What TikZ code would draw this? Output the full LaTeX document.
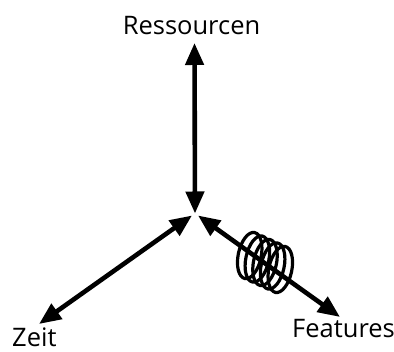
\documentclass[tikz,border=0pt]{standalone}
\usepackage{fontspec}
\setmainfont{Open Sans}
\usetikzlibrary{arrows.meta,calc}
\begin{document}
\begin{tikzpicture}[x=1pt,y=1pt,
  axis/.style={line width=4.6pt,{Triangle[length=22pt,width=18pt]}-{Triangle[length=22pt,width=18pt]}},
  lbl/.style={font=\fontsize{25.5}{30}\selectfont,inner sep=0pt},
  loop/.style={line width=3.2pt,rotate=-12,x radius=11.5,y radius=23.5}]
\useasboundingbox (0,0) rectangle (394,352);
% axis end points
\coordinate (ores) at (195,138.5);
\coordinate (ozeit) at (192,136.5);
\coordinate (ofeat) at (198,136.5);
\coordinate (res) at (194.5,309);
\coordinate (zeit) at (39,28);
\coordinate (feat) at (340,35);
\coordinate (spring) at (265,89.5);
% labels
\node[lbl,anchor=base] (tres) at (191.5,317) {Ressourcen};
\node[lbl,anchor=base west] (tzeit) at (12,5.5) {Zeit};
\node[lbl,anchor=base west] (tfeat) at (292,14) {Features};
% axes
\draw[axis] (res) -- (ores);
\draw[axis] (zeit) -- (ozeit);
\draw[axis] (ofeat) -- (feat);
% spring on the feature axis
\foreach \t in {-2,...,2}
  \draw[loop] ($(spring)+(\t*8.2,-\t*1.8)$) ellipse [];
\end{tikzpicture}
\end{document}
